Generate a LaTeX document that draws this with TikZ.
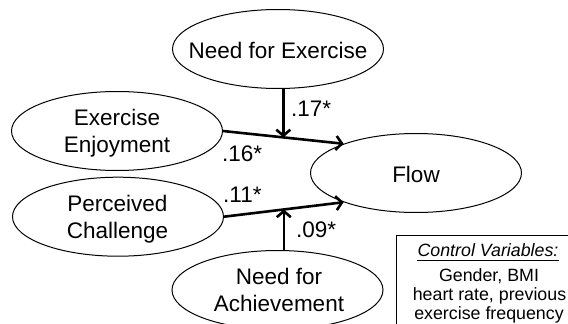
\documentclass[tikz,border=0pt]{standalone}
\usepackage{fontspec}
\setmainfont{Liberation Sans}
\usetikzlibrary{arrows.meta,shapes.geometric,calc}
\begin{document}
\begin{tikzpicture}[x=1pt,y=-1pt,
  ell/.style={draw=black, line width=1pt, ellipse, inner sep=0pt, minimum width=211pt, minimum height=79pt},
  big/.style={font=\fontsize{22.5}{27.3}\selectfont, align=center, inner sep=0pt},
  coef/.style={font=\fontsize{22.5}{27}\selectfont, inner sep=0pt, anchor=west},
  small/.style={font=\fontsize{17.8}{19}\selectfont, inner sep=0pt, anchor=base},
  conn/.style={line width=2.6pt, -{Straight Barb[length=6pt,width=14pt]}}
]
\useasboundingbox (0,0) rectangle (568,324);
\clip (0,0) rectangle (568,324);

% ellipses
\node[ell] (NE) at (278,49) {};
\node[ell] (EE) at (117,131) {};
\node[ell] (PC) at (118,216.7) {};
\node[ell] (Flow) at (416,173) {};
\node[ell] (NA) at (277.5,290) {};

% texts
\node[big] (NEt) at (278,50) {Need for Exercise};
\node[big] (EEt) at (117,133) {Exercise\\Enjoyment};
\node[big] (PCt) at (117.5,219.5) {Perceived\\Challenge};
\node[big] (Flowt) at (416,174) {Flow};
\node[big] (NAt) at (279,290.2) {Need for\\Achievement};

% connectors
\coordinate (m1) at ($(EE.east)!0.5!(Flow.158)$);
\coordinate (m2) at ($(PC.east)!0.5!(Flow.202)$);
\draw[conn] (EE.east) -- (Flow.158);
\draw[conn] (PC.east) -- (Flow.202);
\draw[conn] (m1 |- NE.south) -- (m1);
\draw[conn] (m2 |- NA.north) -- (m2);

% coefficients
\node[coef] (c17) at (291,108.3) {.17*};
\node[coef] (c16) at (222,153.5) {.16*};
\node[coef] (c11) at (223,194.5) {.11*};
\node[coef] (c09) at (296,229.5) {.09*};

% control variables box
\draw[line width=0.9pt] (396.7,235) rectangle (585,340);
\node[small] (cv) at (488,256) {\itshape Control Variables:};
\draw[line width=0.8pt] ($(cv.base west)+(0,4)$) -- ($(cv.base east)+(0,4)$);
\node[small] (gb) at (489,281.5) {Gender, BMI};
\node[small] (hr) at (489.5,300) {heart rate, previous};
\node[small] (ef) at (489,319) {exercise frequency};
\end{tikzpicture}
\end{document}
